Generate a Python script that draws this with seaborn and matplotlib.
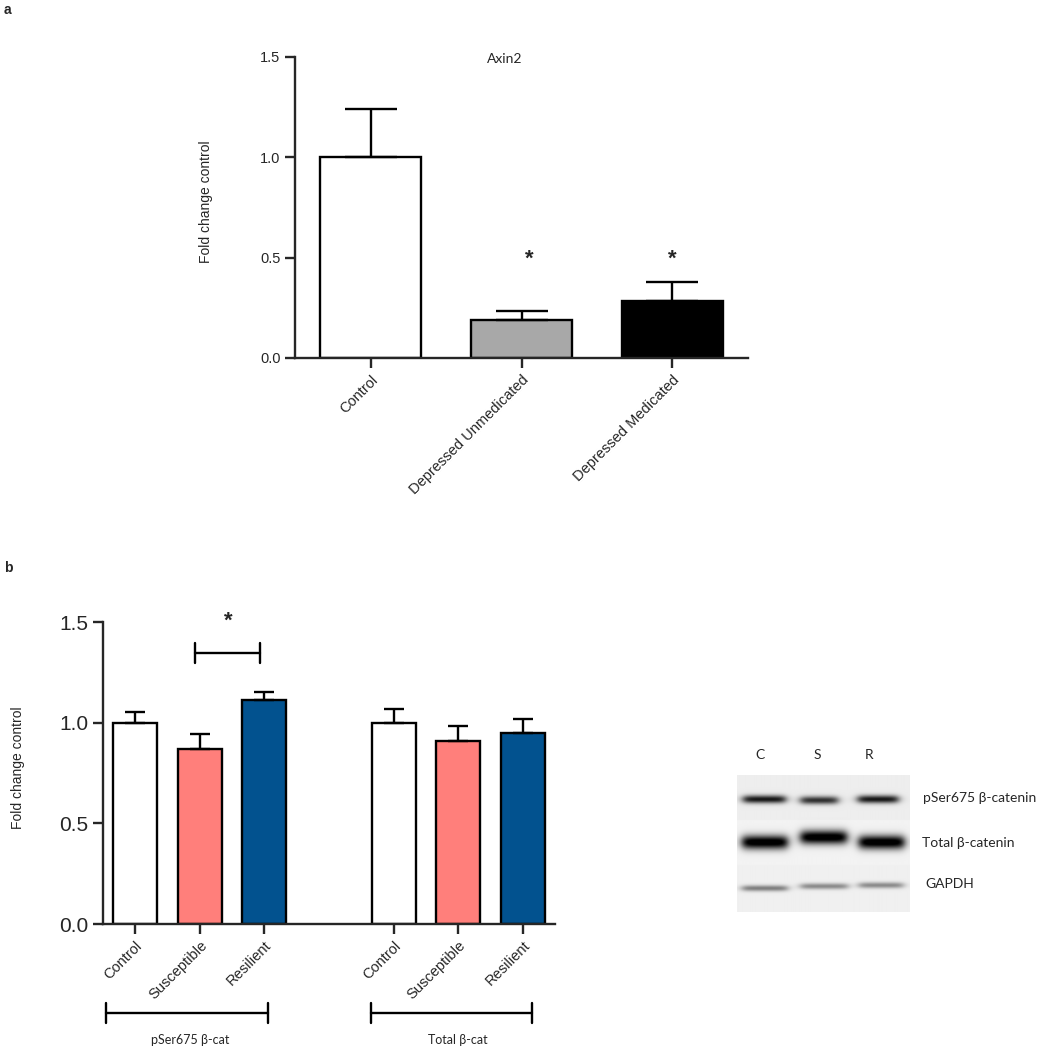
import numpy as np
import pandas as pd
import matplotlib
matplotlib.use("Agg")
import matplotlib.pyplot as plt
import seaborn as sns

# panel a: Axin2 expression
axin_groups = ["Control", "Depressed Unmedicated", "Depressed Medicated"]
axin_mean = [1.00, 0.19, 0.285]
axin_sem = [0.24, 0.045, 0.095]
axin_colors = ["white", "#a8a8a8", "black"]
axin_stars = ["", "*", "*"]

# panel b: beta-catenin quantification
bcat_groups = ["Control", "Susceptible", "Resilient"]
bcat_targets = ["pSer675 β-cat", "Total β-cat"]
pser_mean = [1.00, 0.87, 1.115]
pser_sem = [0.053, 0.075, 0.038]
total_mean = [1.00, 0.91, 0.95]
total_sem = [0.07, 0.075, 0.07]
bcat_colors = ["white", "#ff7f7b", "#02528f"]

# western blot (pixel units inside the blot panel)
lanes = ["C", "S", "R"]
blot_rows = ["pSer675 β-catenin", "Total β-catenin", "GAPDH"]
strip_edges = [(0, 45), (45, 90), (90, 137)]
strip_bg = [0.93, 0.95, 0.94]
band_y = [[24, 25, 24], [67, 62, 67], [113, 111, 110]]
band_x = [[(6, 48), (63, 100), (120, 160)],
          [(5, 50), (63, 109), (121, 166)],
          [(5, 50), (63, 110), (121, 165)]]
band_half = [4.0, 7.0, 3.0]
band_dark = [[0.85, 0.75, 0.85], [1.05, 1.05, 1.05], [0.45, 0.4, 0.4]]

W, H = 1038, 1050


def fpos(x, y):
    return x / W, 1 - y / H


def style_axis(ax, labelsize):
    sns.despine(ax=ax)
    for s in ["left", "bottom"]:
        ax.spines[s].set_linewidth(1.7)
    ax.tick_params(direction="out", length=7, width=1.7, labelsize=labelsize)
    ax.tick_params(axis="x", labelsize=10.5)
    ax.set_xlabel("")


def blot_image(w=172, h=137, scale=2):
    xx, yy = np.meshgrid(np.arange(w * scale) / scale, np.arange(h * scale) / scale)
    img = np.ones_like(xx)
    for (y0, y1), bg in zip(strip_edges, strip_bg):
        img[(yy >= y0) & (yy < y1)] = bg
    for r in range(len(blot_rows)):
        for l in range(len(lanes)):
            x0, x1 = band_x[r][l]
            px = 1 / (1 + np.exp(-(xx - x0) / 2.5)) / (1 + np.exp((xx - x1) / 2.5))
            py = np.exp(-((yy - band_y[r][l]) / band_half[r]) ** 2)
            img -= band_dark[r][l] * px * py
    return np.clip(img, 0, 1)


sns.set_style("ticks")
plt.rcParams["font.family"] = ["Liberation Sans", "DejaVu Sans"]

fig = plt.figure(figsize=(10.38, 10.5), dpi=100)

# ---- panel a
ax_a = fig.add_axes([295 / W, 1 - 358 / H, 453 / W, 301 / H])
df_a = pd.DataFrame({"group": axin_groups, "fold": axin_mean})
sns.barplot(data=df_a, x="group", y="fold", hue="group", order=axin_groups,
            palette=dict(zip(axin_groups, axin_colors)), legend=False, saturation=1,
            errorbar=None, width=0.67, edgecolor="black", linewidth=1.7, ax=ax_a)
xa = np.arange(len(axin_groups))
ax_a.errorbar(xa, axin_mean, yerr=[np.zeros(len(xa)), axin_sem], fmt="none",
              ecolor="black", elinewidth=1.7, capsize=18.5, capthick=1.7)
for i, s in enumerate(axin_stars):
    if s:
        ax_a.text(i + (0.05 if i == 1 else 0), 0.49, s, ha="center", va="center",
                  fontsize=16, fontweight="bold")
ax_a.set_xlim(-0.5, 2.5)
ax_a.set_ylim(0, 1.5)
ax_a.set_yticks([0, 0.5, 1.0, 1.5])
ax_a.set_yticklabels(["0.0", "0.5", "1.0", "1.5"])
style_axis(ax_a, 10.5)
ax_a.set_ylabel("Fold change control", fontsize=10)
ax_a.yaxis.set_label_coords(-0.181, 0.52)
plt.setp(ax_a.get_xticklabels(), rotation=45, ha="right", rotation_mode="anchor")
ax_a.text(0.4636, 0.995, "Axin2", transform=ax_a.transAxes, ha="center", va="center",
          fontsize=10, family=["Lato", "DejaVu Sans"])

# ---- panel b
ax_b = fig.add_axes([103 / W, 1 - 924 / H, 452 / W, 302 / H])
keys, vals, cols = [], [], []
for t, means in zip(bcat_targets, [pser_mean, total_mean]):
    for g, m, c in zip(bcat_groups, means, bcat_colors):
        keys.append(t + ":" + g)
        vals.append(m)
        cols.append(c)
df_b = pd.DataFrame({"key": keys, "fold": vals})
order_b = keys[:3] + ["gap"] + keys[3:]
sns.barplot(data=df_b, x="key", y="fold", hue="key", order=order_b,
            palette=dict(zip(keys, cols)), legend=False, errorbar=None, saturation=1,
            width=0.68, edgecolor="black", linewidth=1.7, ax=ax_b)
xb = [0, 1, 2, 4, 5, 6]
sem_b = pser_sem + total_sem
ax_b.errorbar(xb, vals, yerr=[np.zeros(len(xb)), sem_b], fmt="none",
              ecolor="black", elinewidth=1.7, capsize=7.5, capthick=1.7)
ax_b.set_xlim(-0.5, 6.5)
ax_b.set_ylim(0, 1.5)
ax_b.set_yticks([0, 0.5, 1.0, 1.5])
ax_b.set_yticklabels(["0.0", "0.5", "1.0", "1.5"])
ax_b.set_xticks(xb)
ax_b.set_xticklabels(bcat_groups * 2)
style_axis(ax_b, 15)
ax_b.set_ylabel("Fold change control", fontsize=10)
ax_b.yaxis.set_label_coords(-0.173, 0.517)
plt.setp(ax_b.get_xticklabels(), rotation=45, ha="right", rotation_mode="anchor")

# significance bracket
ax_b.plot([0.93, 1.93], [1.346, 1.346], color="black", lw=1.7, clip_on=False)
for xe in [0.93, 1.93]:
    ax_b.plot([xe, xe], [1.296, 1.396], color="black", lw=1.7, clip_on=False)
ax_b.text(1.44, 1.505, "*", ha="center", va="center", fontsize=16, fontweight="bold")

# group brackets below the axis
for (x0, x1), t, xc in zip([(-0.45, 2.05), (3.65, 6.15)], bcat_targets, [0.85, 4.99]):
    ax_b.plot([x0, x1], [-0.443, -0.443], color="black", lw=1.7, clip_on=False)
    for xe in [x0, x1]:
        ax_b.plot([xe, xe], [-0.393, -0.493], color="black", lw=1.7, clip_on=False)
    ax_b.text(xc, -0.578, t, ha="center", va="center", fontsize=9,
              family=["Lato", "DejaVu Sans"])

# ---- western blot
ax_w = fig.add_axes([737 / W, 1 - 912 / H, 172 / W, 137 / H])
ax_w.imshow(blot_image(), cmap="gray", vmin=0, vmax=1, aspect="auto",
            interpolation="bilinear", extent=[0, 172, 137, 0])
ax_w.axis("off")
for lab, x in zip(lanes, [760, 817, 869]):
    fig.text(*fpos(x, 755), lab, ha="center", va="center", fontsize=10,
             family=["Lato", "DejaVu Sans"])
for lab, (x, y) in zip(blot_rows, [(923, 798), (922, 843), (925, 884)]):
    fig.text(*fpos(x, y), lab, ha="left", va="center", fontsize=10,
             family=["Lato", "DejaVu Sans"])

fig.text(*fpos(4, 10), "a", fontsize=10, fontweight="bold", va="center")
fig.text(*fpos(4, 568), "b", fontsize=10, fontweight="bold", va="center")

fig.savefig("out.png", dpi=100, facecolor="white")
